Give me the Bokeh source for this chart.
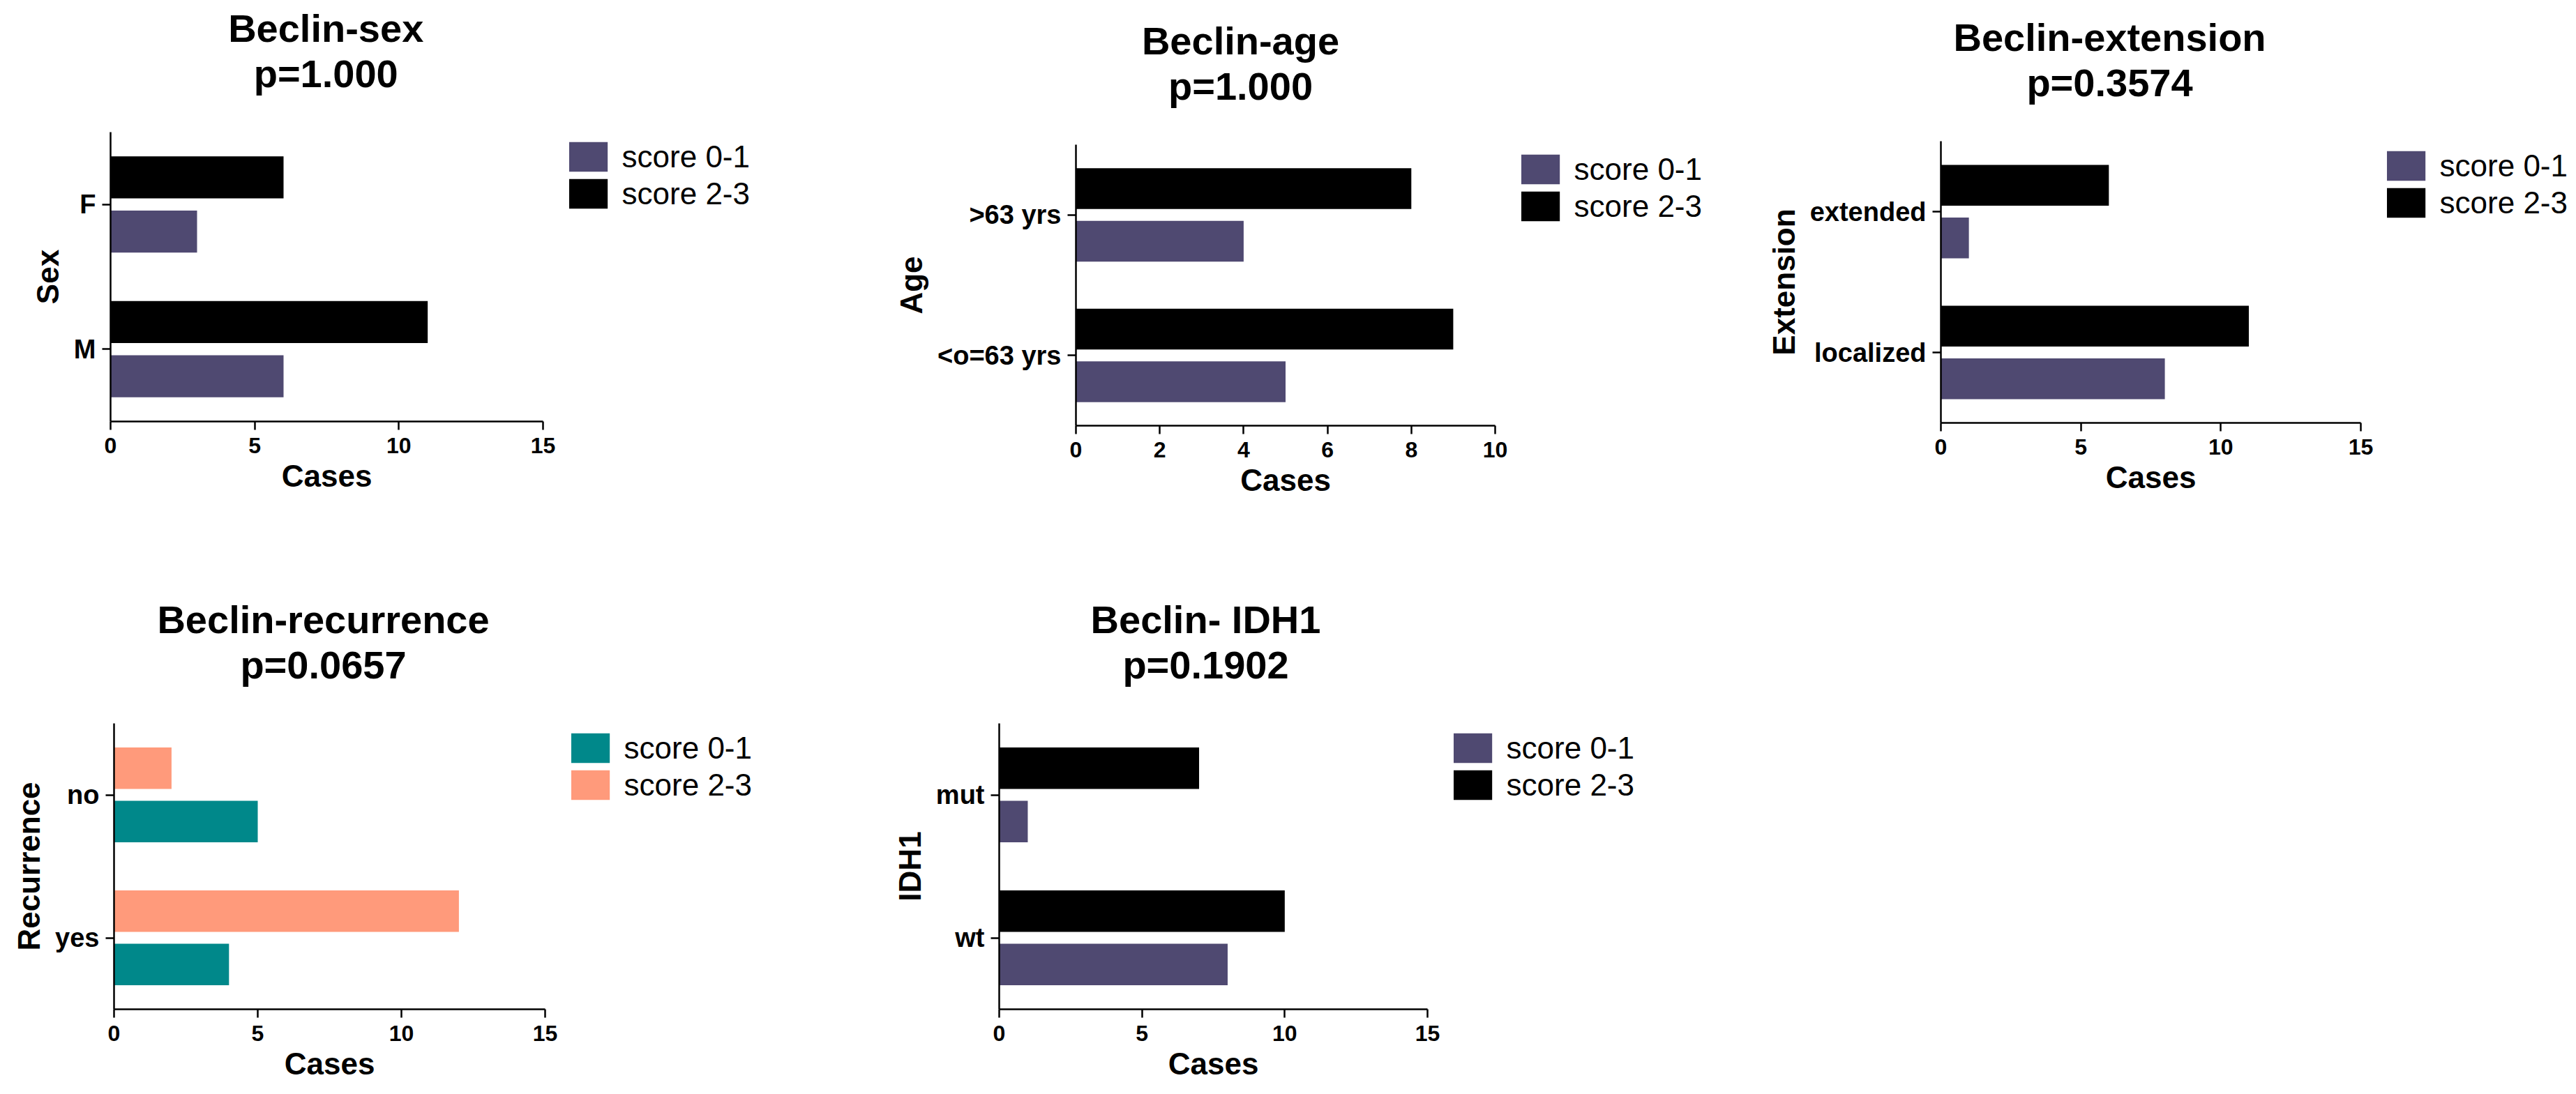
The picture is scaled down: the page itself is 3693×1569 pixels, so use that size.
from bokeh.plotting import figure
from bokeh.models import (ColumnDataSource, FactorRange, Range1d, Legend, LegendItem,
                          Title, SingleIntervalTicker)
from bokeh.layouts import row, column
from bokeh.transform import dodge
from bokeh.core.properties import value
from bokeh.embed import file_html
from bokeh.resources import INLINE

# ---------------- data ----------------
legend_labels = ["score 0-1", "score 2-3"]

sex_categories = ["F", "M"]
sex_score01 = [3, 6]
sex_score23 = [6, 11]

age_categories = [">63 yrs", "<o=63 yrs"]
age_score01 = [4, 5]
age_score23 = [8, 9]

ext_categories = ["extended", "localized"]
ext_score01 = [1, 8]
ext_score23 = [6, 11]

rec_categories = ["no", "yes"]
rec_score01 = [5, 4]
rec_score23 = [2, 12]

idh_categories = ["mut", "wt"]
idh_score01 = [1, 8]
idh_score23 = [7, 10]

titles = ["Beclin-sex", "Beclin-age", "Beclin-extension", "Beclin-recurrence", "Beclin- IDH1"]
pvalues = ["p=1.000", "p=1.000", "p=0.3574", "p=0.0657", "p=0.1902"]
ylabels = ["Sex", "Age", "Extension", "Recurrence", "IDH1"]
xlabel = "Cases"

# ---------------- style ----------------
FONT = "Liberation Sans"
PURPLE = "#4F4971"
BLACK = "#000000"
TEAL = "#00888A"
SALMON = "#FF9A7B"
TITLE_SIZE = 56
XLABEL_SIZE = 44
LEG_SIZE = 44

# approximate advance widths (em), used only to centre / place texts
_BOLD_W = {"B": .722, "e": .556, "c": .556, "l": .278, "i": .278, "n": .611, "-": .333,
           "s": .556, "x": .556, "a": .556, "g": .611, "t": .333, "o": .611, "r": .389,
           "u": .611, " ": .278, "I": .278, "D": .722, "H": .722, "p": .611, "=": .584,
           ".": .278, "C": .722}
_REG_W = {"s": .5, "c": .5, "o": .556, "r": .333, "e": .556, " ": .278, "-": .333}


def bold_width(s, size):
    return sum(_BOLD_W.get(ch, .556) for ch in s) * size


def reg_width(s, size):
    return sum(_REG_W.get(ch, .556) for ch in s) * size


GLYPH_W, GLYPH_H, LABEL_STANDOFF, LEG_MARGIN = 69, 53, 14, 9
LEG_W = GLYPH_W + LABEL_STANDOFF + max(reg_width(t, LEG_SIZE) for t in legend_labels)
LEG_GAP = 30.8          # axis end -> legend glyph box


def panel(title, pvalue, ylabel, cats, s01, s23, xmax, xstep, colors,
          width, height, left, top, fw, fh, title_center, title_gap):
    frame_w = round(fw + LEG_GAP + LEG_W + LEG_MARGIN)   # frame also hosts the legend
    right = width - left - frame_w
    bottom = height - top - fh
    x_end = xmax * frame_w / fw              # axis 0..xmax keeps its fw pixels
    p = figure(width=width, height=height,
               y_range=FactorRange(*cats[::-1]), x_range=Range1d(0, x_end),
               output_backend="svg", toolbar_location=None,
               min_border_left=left, min_border_right=right,
               min_border_top=top, min_border_bottom=bottom)
    p.outline_line_color = None
    p.xgrid.visible = False
    p.ygrid.visible = False
    p.background_fill_color = "white"
    p.border_fill_color = "white"

    src = ColumnDataSource(dict(cat=cats, s01=s01, s23=s23))
    r23 = p.hbar(y=dodge("cat", 0.187, range=p.y_range), left=0, right="s23", height=0.29,
                 source=src, fill_color=colors[1], line_color=None)
    r01 = p.hbar(y=dodge("cat", -0.187, range=p.y_range), left=0, right="s01", height=0.29,
                 source=src, fill_color=colors[0], line_color=None)

    for ax in (p.xaxis[0], p.yaxis[0]):
        ax.axis_line_width = 2.5
        ax.axis_line_color = "black"
        ax.major_tick_line_width = 2.5
        ax.major_tick_line_color = "black"
        ax.major_tick_in = 0
        ax.major_tick_out = 12
        ax.minor_tick_line_color = None
        ax.major_label_text_font = FONT
        ax.major_label_text_font_style = "bold"
        ax.major_label_text_color = "black"
        ax.axis_label_text_font = FONT
        ax.axis_label_text_font_style = "bold"
        ax.axis_label_text_font_size = "44px"
        ax.axis_label_text_color = "black"

    p.xaxis.ticker = SingleIntervalTicker(interval=xstep, num_minor_ticks=0)
    p.xaxis.bounds = (0, xmax)
    p.xaxis.major_label_text_font_size = "32px"
    p.xaxis.major_label_standoff = 11

    # x-axis title centred under the 0..xmax axis
    p.add_layout(Title(text=xlabel, align="left",
                       offset=fw / 2 - bold_width(xlabel, XLABEL_SIZE) / 2,
                       standoff=11, vertical_align="top",
                       text_font=FONT, text_font_style="bold",
                       text_font_size=f"{XLABEL_SIZE}px", text_color="black"), "below")

    p.yaxis.major_label_text_font_size = "38px"
    p.yaxis.major_label_standoff = 9
    p.yaxis.axis_label = ylabel
    p.yaxis.axis_label_standoff = 10

    # title block: spacer nearest the frame, then the p-value line, then the title line
    p.add_layout(Title(text=" ", text_font_size="1px", standoff=title_gap), "above")
    for txt in (pvalue, title):
        p.add_layout(Title(text=txt, align="left",
                           offset=title_center - left - bold_width(txt, TITLE_SIZE) / 2,
                           standoff=0, vertical_align="bottom",
                           text_font=FONT, text_font_style="bold",
                           text_font_size=f"{TITLE_SIZE}px", text_color="black"), "above")

    legend = Legend(items=[LegendItem(label=value(legend_labels[0]), renderers=[r01]),
                           LegendItem(label=value(legend_labels[1]), renderers=[r23])],
                    location="top_right", padding=0, margin=LEG_MARGIN, spacing=-10,
                    glyph_width=GLYPH_W, glyph_height=GLYPH_H, label_standoff=LABEL_STANDOFF,
                    label_text_font=FONT, label_text_font_size=f"{LEG_SIZE}px",
                    label_text_color="black",
                    border_line_color=None, background_fill_alpha=0)
    p.add_layout(legend)
    return p


p1 = panel(titles[0], pvalues[0], ylabels[0], sex_categories, sex_score01, sex_score23,
           15, 5, (PURPLE, BLACK), 1230, 740, 158, 189, 620, 415, 466.7, 50)
p2 = panel(titles[1], pvalues[1], ylabels[1], age_categories, age_score01, age_score23,
           10, 2, (PURPLE, BLACK), 1240, 740, 312, 207, 601, 403, 1778 - 1230, 50)
p3 = panel(titles[2], pvalues[2], ylabels[2], ext_categories, ext_score01, ext_score23,
           15, 5, (PURPLE, BLACK), 1223, 740, 312, 202, 602, 404, 3024 - 2470, 50)
p4 = panel(titles[3], pvalues[3], ylabels[3], rec_categories, rec_score01, rec_score23,
           15, 5, (TEAL, SALMON), 1238, 829, 163, 297, 618, 410, 463, 50)
p5 = panel(titles[4], pvalues[4], ylabels[4], idh_categories, idh_score01, idh_score23,
           15, 5, (PURPLE, BLACK), 1232, 829, 194, 297, 614, 410, 1728 - 1238, 50)

# each figure sits in its own column so that the rows do not align the plot frames
layout = column(row(column(p1), column(p2), column(p3)),
                row(column(p4), column(p5)))

open("out.html", "w").write(file_html(layout, INLINE))
